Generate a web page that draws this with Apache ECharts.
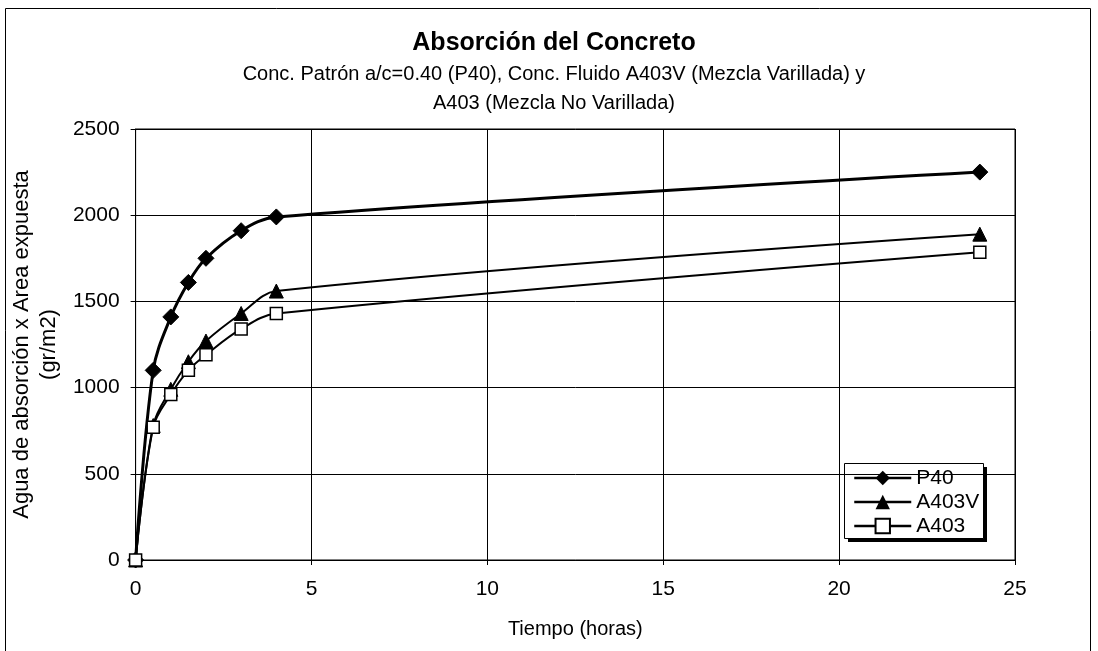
<!DOCTYPE html>
<html>
<head>
<meta charset="utf-8">
<script src="https://cdn.jsdelivr.net/npm/echarts@6/dist/echarts.min.js"></script>
<style>
  html, body { margin: 0; padding: 0; background: #fff; }
  #chart { width: 1098px; height: 651px; }
</style>
</head>
<body>
<div id="chart"></div>
<script>
// Tiempo (horas) at which absorption was measured
const horas = [0, 0.5, 1, 1.5, 2, 3, 4, 24];
// Agua de absorción x Área expuesta (gr/m2)
const p40 = [0, 1100, 1410, 1610, 1750, 1910, 1990, 2250];
const a403v = [0, 780, 990, 1150, 1270, 1430, 1560, 1890];
const a403 = [0, 770, 960, 1100, 1190, 1340, 1430, 1785];

const pairs = (xs, ys) => xs.map((x, i) => [x, ys[i]]);

const font = 'Liberation Sans, Arial, sans-serif';
const chart = echarts.init(document.getElementById('chart'), null, { renderer: 'canvas' });

chart.setOption({
  animation: false,
  backgroundColor: '#fff',
  textStyle: { fontFamily: font, color: '#000' },
  title: {
    text: 'Absorción del Concreto',
    subtext: 'Conc. Patrón a/c=0.40 (P40), Conc. Fluido A403V (Mezcla Varillada) y\nA403 (Mezcla No Varillada)',
    left: 554,
    textAlign: 'center',
    top: 30,
    padding: 0,
    itemGap: 4,
    textStyle: { fontFamily: font, fontSize: 25, fontWeight: 'bold', color: '#000', lineHeight: 26 },
    subtextStyle: { fontFamily: font, fontSize: 20, color: '#000', lineHeight: 29 }
  },
  grid: {
    left: 135, right: 83, top: 129, bottom: 91,
    show: true, borderColor: '#000', borderWidth: 1
  },
  xAxis: {
    type: 'value', min: 0, max: 25, interval: 5,
    name: 'Tiempo (horas)', nameLocation: 'middle', nameGap: 59,
    nameTextStyle: { fontFamily: font, fontSize: 20, color: '#000' },
    axisLine: { lineStyle: { color: '#000', width: 1 } },
    axisTick: { show: true, length: 5, inside: false, lineStyle: { color: '#000' } },
    axisLabel: { fontFamily: font, fontSize: 21, color: '#000', margin: 19 },
    splitLine: { lineStyle: { color: '#000', width: 1 } }
  },
  yAxis: {
    type: 'value', min: 0, max: 2500, interval: 500,
    name: 'Agua de absorción x Area expuesta\n(gr/m2)', nameLocation: 'middle', nameGap: 61,
    nameTextStyle: { fontFamily: font, fontSize: 22, color: '#000', lineHeight: 27 },
    axisLine: { show: true, lineStyle: { color: '#000', width: 1 } },
    axisTick: { show: true, length: 5, lineStyle: { color: '#000' } },
    axisLabel: { fontFamily: font, fontSize: 21, color: '#000', margin: 16, formatter: v => String(v) },
    splitLine: { lineStyle: { color: '#000', width: 1 } }
  },
  legend: {
    orient: 'vertical',
    left: 853, top: 467,
    padding: 0,
    z: 20,
    itemWidth: 57, itemHeight: 18, itemGap: 2,
    lineStyle: { width: 2.5 },
    textStyle: { fontFamily: font, fontSize: 21, color: '#000', lineHeight: 22 },
    data: ['P40', 'A403V', 'A403']
  },
  graphic: {
    z: 10,
    elements: [
      {
        type: 'rect',
        shape: { x: 5.5, y: 8.5, width: 1085, height: 660 },
        style: { fill: 'none', stroke: '#000', lineWidth: 1 },
        silent: true
      },
      {
        // legend box shadow
        type: 'rect',
        shape: { x: 848, y: 467, width: 139, height: 75 },
        style: { fill: '#000' },
        silent: true
      },
      {
        // legend box
        type: 'rect',
        shape: { x: 844.5, y: 463.5, width: 139, height: 75 },
        style: { fill: '#fff', stroke: '#000', lineWidth: 1 },
        silent: true
      }
    ]
  },
  series: [
    {
      name: 'P40', type: 'line', smooth: 0.35,
      data: pairs(horas, p40),
      symbol: 'diamond', symbolSize: 16,
      lineStyle: { color: '#000', width: 3 },
      itemStyle: { color: '#000', borderColor: '#000' }
    },
    {
      name: 'A403V', type: 'line', smooth: 0.35,
      data: pairs(horas, a403v),
      symbol: 'triangle', symbolSize: 14,
      lineStyle: { color: '#000', width: 2 },
      itemStyle: { color: '#000', borderColor: '#000' }
    },
    {
      name: 'A403', type: 'line', smooth: 0.35,
      data: pairs(horas, a403),
      symbol: 'rect', symbolSize: 12,
      lineStyle: { color: '#000', width: 2 },
      itemStyle: { color: '#fff', borderColor: '#000', borderWidth: 1.5 }
    }
  ]
});
</script>
</body>
</html>
